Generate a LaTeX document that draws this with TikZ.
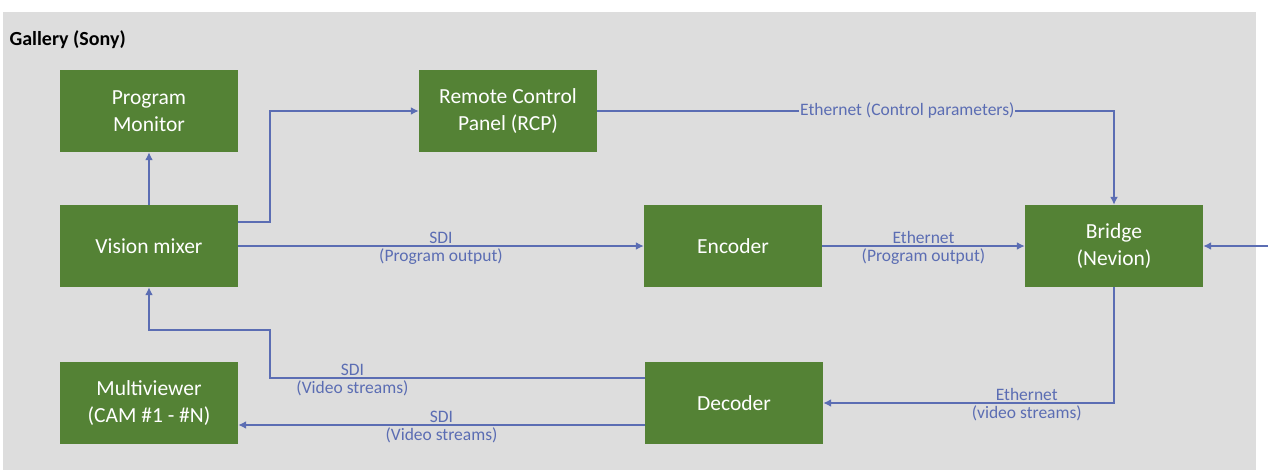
\documentclass[tikz,border=0pt]{standalone}
\usepackage{fontspec}
\setmainfont{Carlito}
\usetikzlibrary{positioning, arrows.meta, calc}

\definecolor{boxgreen}{HTML}{548235}
\definecolor{panelgray}{HTML}{DDDDDD}
\definecolor{wireblue}{HTML}{5B6DB3}

\begin{document}
\begin{tikzpicture}[x=1pt, y=-1pt,
    box/.style={fill=boxgreen, text=white, minimum width=178pt, minimum height=82pt,
      align=center, inner sep=2pt, font=\fontsize{21.5}{27}\selectfont},
    wire/.style={draw=wireblue, line width=1.6pt, -{Latex[length=8pt,width=8pt]}},
    lbl/.style={text=wireblue, font=\fontsize{17.5}{20}\selectfont, align=center, inner sep=1.5pt}]
  \useasboundingbox (0,0) rectangle (1268,476);

  % Gallery area
  \fill[panelgray] (3,12) rectangle (1256,470);
  \node[anchor=west, font=\bfseries\fontsize{20}{23}\selectfont] (title) at (6,40) {Gallery (Sony)};

  % Devices
  \node[box] (monitor) at (149,111) {Program\\Monitor};
  \node[box] (rcp) at (508,111) {Remote Control\\Panel (RCP)};
  \node[box] (mixer) at (149,246) {Vision mixer};
  \node[box] (encoder) at (733,246) {Encoder};
  \node[box] (bridge) at (1114,246) {Bridge\\(Nevion)};
  \node[box] (multi) at (149,403) {Multiviewer\\(CAM \#1 - \#N)};
  \node[box] (decoder) at (734,403) {Decoder};

  \coordinate (ext) at (1268,246);
  \coordinate (bend) at (270,330);

  % Connections
  \draw[wire] (mixer.north) -- (monitor.south);
  \draw[wire] ([yshift=24pt]mixer.east) -- ++(32,0) |- (rcp.west);
  \draw[wire] (rcp.east) -| node[lbl, pos=0.3, fill=panelgray, inner sep=1pt] {Ethernet (Control parameters)} (bridge.north);
  \draw[wire] (mixer.east) -- node[lbl, above] {SDI} node[lbl, below] {(Program output)} (encoder.west);
  \draw[wire] (encoder.east) -- node[lbl, above] {Ethernet} node[lbl, below] {(Program output)} (bridge.west);
  \draw[wire] (ext) -- (bridge.east);
  \draw[wire] (bridge.south) |- node[lbl, pos=0.65, above] {Ethernet} node[lbl, pos=0.65, below] {(video streams)} (decoder.east);
  \draw[wire] ([yshift=25pt]decoder.west) -| node[lbl, pos=0.39, above] {SDI} node[lbl, pos=0.39, below] {(Video streams)} (bend) -| (mixer.south);
  \draw[wire] ([yshift=-22pt]decoder.west) -- node[lbl, above] {SDI} node[lbl, below] {(Video streams)} ([yshift=-22pt]decoder.west -| multi.east);
\end{tikzpicture}
\end{document}
